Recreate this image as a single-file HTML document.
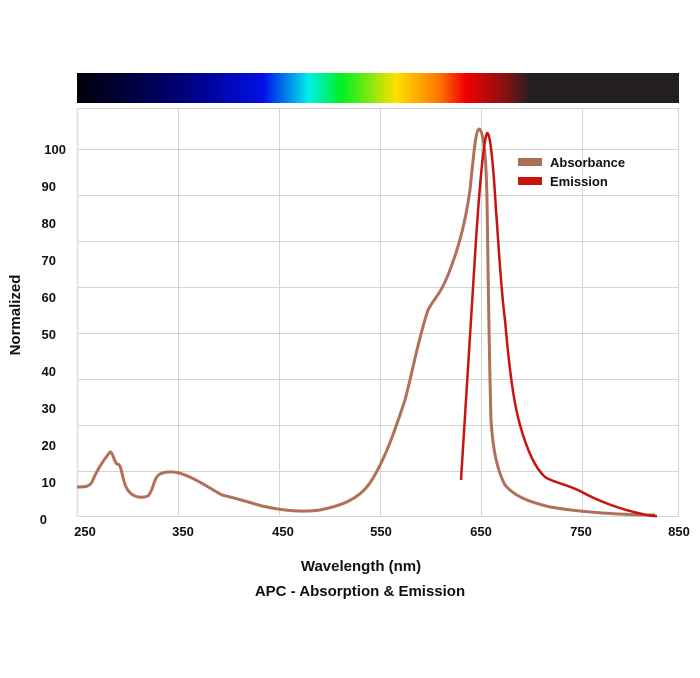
<!DOCTYPE html>
<html><head><style>
body{margin:0;background:#fff;}
svg text{font-family:"Liberation Sans",sans-serif;font-weight:bold;fill:#111;}
</style></head><body>
<svg width="700" height="673" viewBox="0 0 700 673" xmlns="http://www.w3.org/2000/svg">
<defs>
<linearGradient id="sp" x1="0" x2="1" y1="0" y2="0">
<stop offset="0" stop-color="#000008"/>
<stop offset="0.18" stop-color="#00007a"/>
<stop offset="0.31" stop-color="#0010e8"/>
<stop offset="0.385" stop-color="#00f0e8"/>
<stop offset="0.44" stop-color="#00f020"/>
<stop offset="0.53" stop-color="#ffe000"/>
<stop offset="0.60" stop-color="#ff7a00"/>
<stop offset="0.645" stop-color="#f20000"/>
<stop offset="0.71" stop-color="#8a1010"/>
<stop offset="0.755" stop-color="#231f20"/>
<stop offset="1" stop-color="#231f20"/>
</linearGradient>
</defs>
<rect x="77" y="73" width="602" height="30" fill="url(#sp)"/>
<g stroke="#d4d4d4" stroke-width="1" fill="none">
<rect x="77.5" y="108.5" width="601" height="408"/>
<line x1="178.5" y1="108" x2="178.5" y2="516"/>
<line x1="279.5" y1="108" x2="279.5" y2="516"/>
<line x1="380.5" y1="108" x2="380.5" y2="516"/>
<line x1="481.5" y1="108" x2="481.5" y2="516"/>
<line x1="582.5" y1="108" x2="582.5" y2="516"/>
<line x1="77" y1="149.5" x2="678" y2="149.5"/>
<line x1="77" y1="195.5" x2="678" y2="195.5"/>
<line x1="77" y1="241.5" x2="678" y2="241.5"/>
<line x1="77" y1="287.5" x2="678" y2="287.5"/>
<line x1="77" y1="333.5" x2="678" y2="333.5"/>
<line x1="77" y1="379.5" x2="678" y2="379.5"/>
<line x1="77" y1="425.5" x2="678" y2="425.5"/>
<line x1="77" y1="471.5" x2="678" y2="471.5"/>
</g>
<line x1="77.5" y1="108" x2="77.5" y2="517" stroke="#e4e4e4" stroke-width="2"/>
<g font-size="13" text-anchor="end">
<text x="66" y="154">100</text><text x="56" y="191">90</text><text x="56" y="228">80</text>
<text x="56" y="265">70</text><text x="56" y="302">60</text><text x="56" y="339">50</text>
<text x="56" y="376">40</text><text x="56" y="413">30</text><text x="56" y="450">20</text>
<text x="56" y="487">10</text><text x="47" y="524">0</text>
</g>
<g font-size="13" text-anchor="middle">
<text x="85" y="536">250</text><text x="183" y="536">350</text><text x="283" y="536">450</text>
<text x="381" y="536">550</text><text x="481" y="536">650</text><text x="581" y="536">750</text>
<text x="679" y="536">850</text>
</g>
<text x="361" y="571" font-size="15" text-anchor="middle">Wavelength (nm)</text>
<text x="360" y="596" font-size="15" text-anchor="middle">APC - Absorption &amp; Emission</text>
<text transform="translate(20,315) rotate(-90)" font-size="15" text-anchor="middle">Normalized</text>
<path fill="none" stroke="#b0705a" stroke-width="3" stroke-linejoin="round" d="M77,487 C85,487 89,487 92,482 C96,472 102,462 110,452 C113,452 114,462 117,464 C122,464 121,475 126,487 C131,497 140,499 148,496 C154,490 153,478 160,474 C167,471 175,471 185,475 C198,480 206,486 222,495 C235,498 245,501 262,506 C280,510 300,513 320,510 C340,506 358,500 370,483 C385,460 395,430 405,400 C413,370 418,340 428,310 C433,300 440,295 448,275 C458,250 465,225 470,190 C474,150 476,130 479,129 C483,130 486,150 487,200 C488,260 489,350 491,420 C493,450 497,470 505,485 C515,497 530,502 550,507 C580,512 620,515 655,515"/>
<path fill="none" stroke="#c8140f" stroke-width="2.5" stroke-linejoin="round" d="M461,480 C464,430 469,340 476,240 C480,180 484,140 487,133 C490,132 493,160 496,210 C499,250 501,290 505,320 C509,365 513,400 520,425 C527,450 535,468 545,477 C552,482 566,484 580,491 C598,501 620,509 638,513 C645,515 652,516 657,516"/>
<rect x="518" y="158" width="24" height="8" fill="#a7704f"/>
<rect x="518" y="177" width="24" height="8" fill="#c8140f"/>
<text x="550" y="167" font-size="13">Absorbance</text>
<text x="550" y="186" font-size="13">Emission</text>
</svg>
</body></html>
